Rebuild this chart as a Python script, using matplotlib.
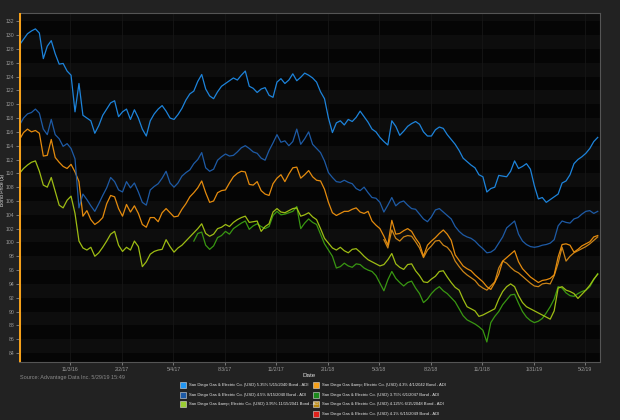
import numpy as np
import pandas as pd
import matplotlib
matplotlib.use("Agg")
import matplotlib.pyplot as plt
import matplotlib.dates as mdates
from matplotlib.patches import Rectangle

plt.rcParams['font.family'] = ['Liberation Sans', 'DejaVu Sans']

# -------------------------------
# Data (weekly closes)
# -------------------------------
dates = pd.date_range('2016-08-05', periods=147, freq='7D')

bond_535_2040 = [
    128.6, 129.4, 130.2, 130.6, 130.9, 130.3, 126.6, 128.4, 129.2, 127.3, 125.8, 125.9, 124.8,
    124.2, 118.9, 123.0, 118.4, 118.0, 117.6, 115.8, 116.9, 118.4, 119.3, 120.2, 120.5, 118.2,
    118.9, 119.3, 117.8, 119.2, 118.0, 116.4, 115.4, 117.6, 118.6, 119.3, 119.8, 119.0, 118.0,
    117.8, 118.5, 119.4, 120.6, 121.5, 121.9, 123.3, 124.3, 122.2, 121.2, 120.8, 121.8, 122.6,
    123.0, 123.4, 123.8, 123.5, 124.2, 124.8, 122.6, 122.3, 121.7, 122.2, 122.4, 121.3, 121.0,
    123.2, 123.7, 123.0, 123.5, 124.4, 123.4, 123.9, 124.5, 124.2, 123.8, 123.2, 121.8, 120.8,
    118.0, 115.9, 117.3, 117.6, 117.0, 117.8, 117.5, 118.1, 119.0, 118.2, 117.4, 116.4, 116.0,
    115.2, 114.6, 114.1, 117.6, 116.8, 115.5, 116.1, 116.8, 117.2, 117.5, 117.1, 116.0, 115.4,
    115.4, 116.3, 116.7, 116.5, 115.6, 114.9, 114.2, 113.3, 112.2, 111.7, 111.2, 110.8, 109.8,
    109.5, 107.3, 107.8, 108.0, 109.7, 109.6, 109.5, 110.3, 111.8, 110.7, 111.0, 111.4, 110.6,
    108.2, 106.3, 106.5, 105.8, 106.2, 106.6, 107.0, 108.6, 108.9, 109.8, 111.4, 112.0, 112.4,
    112.9, 113.6, 114.6, 115.2,
]

bond_45_2040 = [
    117.0, 118.0, 118.6, 118.8, 119.3, 118.7, 116.4, 115.6, 117.8, 115.6, 115.0, 113.9, 114.3,
    113.6, 112.1, 105.0, 107.0, 106.2, 105.3, 104.5, 105.6, 106.8, 107.9, 109.4, 108.8, 107.6,
    107.3, 108.8, 107.9, 108.6, 107.3, 105.8, 105.4, 107.6, 108.1, 108.5, 109.3, 110.3, 108.6,
    108.0, 108.6, 109.6, 110.1, 110.5, 111.4, 112.0, 113.0, 110.8, 110.3, 110.6, 111.9, 112.4,
    112.8, 112.5, 112.6, 113.1, 113.7, 114.0, 113.6, 113.1, 112.9, 112.2, 111.9, 113.3, 114.4,
    115.6, 114.5, 114.7, 114.0, 114.6, 116.4, 114.2, 115.0, 116.0, 114.2, 113.6, 113.0, 111.8,
    110.1, 109.4, 108.8, 108.7, 109.0, 108.7, 108.5, 107.8, 107.5, 108.0, 107.2, 106.5, 106.4,
    105.8, 104.4, 105.4, 106.5, 105.3, 105.8, 106.0, 105.4, 104.9, 104.8, 104.1, 103.4, 103.0,
    103.7, 104.7, 104.9, 104.4, 103.9, 103.4, 102.3, 101.6, 101.1, 100.8, 100.6, 100.2, 99.6,
    99.1, 98.5, 98.6, 99.0, 99.9, 100.8, 102.1, 102.6, 103.1, 101.2, 100.2, 99.7, 99.4,
    99.3, 99.4, 99.6, 99.7, 99.9, 100.4, 102.4, 103.1, 102.9, 102.8, 103.4, 103.6, 104.1,
    104.5, 104.6, 104.2, 104.5,
]

bond_43_2042 = [
    114.9, 115.9, 116.4, 116.0, 116.2, 115.8, 112.5, 112.6, 114.9, 112.3, 111.6, 111.0, 110.7,
    111.3, 110.2, 108.8, 103.8, 104.6, 103.3, 102.6, 103.0, 103.6, 105.6, 106.8, 106.6, 104.9,
    103.8, 105.5, 104.4, 105.3, 104.2, 102.6, 102.2, 103.6, 103.6, 103.0, 104.3, 104.9, 104.3,
    103.7, 103.8, 104.8, 105.6, 106.6, 107.2, 107.9, 108.9, 107.2, 105.8, 106.0, 107.2, 107.5,
    107.6, 108.6, 109.5, 110.0, 110.3, 110.2, 108.4, 108.3, 108.8, 107.5, 107.0, 106.8, 108.5,
    109.3, 109.8, 108.8, 109.9, 110.8, 110.9, 109.3, 109.8, 110.4, 109.5, 109.0, 108.9, 107.7,
    105.8, 104.3, 103.9, 104.2, 104.5, 104.5, 104.8, 105.0, 104.4, 104.2, 104.5, 103.1, 102.5,
    102.0, 100.9, 99.6, 103.2, 101.2, 101.3, 101.7, 102.0, 101.6, 100.6, 99.8, 98.0, 99.6,
    100.2, 100.7, 101.3, 101.8, 101.2, 100.3, 98.2, 97.4, 96.6, 96.2, 95.9, 95.3, 94.8,
    94.3, 93.6, 93.2, 94.2, 95.4, 97.3, 97.8, 98.3, 98.8, 97.2, 96.2, 95.6, 95.0,
    94.6, 94.2, 94.5, 94.6, 94.8, 95.3, 97.9, 99.7, 99.8, 99.6, 98.6, 99.0, 99.5,
    99.8, 100.1, 100.8, 101.0,
]

bond_4125_2048 = [np.nan] * 92 + [
    100.4, 99.2, 101.8, 100.6, 100.2, 100.8, 101.0, 100.9, 100.1, 99.2, 97.8, 98.9,
    99.5, 100.2, 100.3, 99.6, 99.3, 98.6, 97.3, 96.5, 95.8, 95.3, 94.9, 94.5, 93.8,
    93.4, 93.1, 93.7, 94.3, 96.3, 97.3, 97.0, 96.4, 95.9, 95.6, 95.1, 94.6, 94.1,
    93.7, 93.6, 94.0, 94.1, 94.0, 95.2, 97.0, 99.3, 97.3, 98.0, 98.5, 98.8, 99.1,
    99.4, 99.8, 100.3, 100.8,
]

bond_395_2041 = [
    110.0, 110.7, 111.2, 111.6, 111.8, 110.3, 108.3, 108.0, 109.4, 107.4, 105.4, 105.0, 106.1,
    106.7, 104.2, 100.2, 99.2, 98.9, 99.3, 98.0, 98.5, 99.3, 100.2, 101.2, 101.6, 99.6,
    98.7, 99.3, 98.9, 100.2, 99.4, 96.5, 97.2, 98.3, 98.7, 98.9, 99.0, 100.4, 99.4,
    98.6, 99.2, 99.6, 100.2, 100.8, 101.4, 102.0, 102.7, 101.3, 100.9, 101.2, 102.0, 102.2,
    102.6, 102.3, 102.9, 103.3, 103.6, 103.8, 102.9, 103.0, 103.1, 101.6, 102.3, 102.7, 104.4,
    104.9, 104.4, 104.3, 104.6, 104.9, 105.0, 103.8, 104.0, 104.3, 103.7, 103.3, 102.0, 100.6,
    99.9, 99.2, 98.9, 99.3, 98.8, 98.5, 99.0, 99.1, 98.6, 98.0, 97.5, 97.2, 96.9,
    96.6, 96.8, 97.5, 98.4, 96.9, 96.4, 96.1, 96.8, 96.9, 95.9, 95.2, 94.3, 94.2,
    94.7, 95.1, 95.8, 95.9, 95.0, 94.2, 93.5, 93.1, 91.8, 90.7, 90.4, 90.1, 89.3,
    89.5, 89.8, 90.1, 90.4, 91.8, 92.9, 93.6, 94.0, 93.6, 92.3, 91.3, 90.7, 90.4,
    90.1, 89.8, 89.5, 89.2, 88.9, 90.1, 93.4, 93.6, 93.1, 92.9, 92.6, 91.9, 92.5,
    93.1, 93.8, 94.7, 95.4,
]

bond_375_2047 = [np.nan] * 44 + [
    100.2, 101.3, 101.5, 99.6, 99.0, 99.5, 100.7, 101.0,
    101.6, 101.2, 102.0, 102.4, 102.8, 103.1, 101.9, 102.4, 102.7, 102.3, 102.0, 102.3, 103.9,
    104.5, 104.0, 104.1, 104.3, 104.5, 105.2, 102.0, 102.8, 103.4, 102.9, 102.6, 101.2, 99.8,
    98.9, 98.0, 96.3, 96.5, 97.0, 96.6, 96.4, 96.9, 96.8, 96.3, 96.0, 95.8, 95.2,
    94.1, 93.0, 94.6, 95.8, 94.8, 94.2, 93.7, 94.2, 94.4, 93.4, 92.6, 91.3, 91.8,
    92.6, 93.2, 93.6, 93.0, 92.6, 92.0, 91.4, 90.4, 89.4, 88.8, 88.5, 88.2, 87.8,
    87.3, 85.6, 88.4, 89.3, 90.0, 91.0, 91.7, 92.4, 92.5, 91.2, 90.0, 89.2, 88.7,
    88.4, 88.6, 89.0, 89.8, 90.7, 91.8, 93.6, 93.4, 92.7, 92.3, 92.2, 92.6, 92.9,
    93.1, 93.6, 94.6, 95.5,
]

bond_41_2049 = []  # no prices in this window

labels = [
    "San Diego Gas & Electric Co. (USD) 5.35% 5/15/2040 Bond - ADI",
    "San Diego Gas & Electric Co. (USD) 4.5% 8/15/2040 Bond - ADI",
    "San Diego Gas &amp; Electric Co. (USD) 3.95% 11/15/2041 Bond - ADI",
    "San Diego Gas &amp; Electric Co. (USD) 4.3% 4/1/2042 Bond - ADI",
    "San Diego Gas & Electric Co. (USD) 3.75% 6/1/2047 Bond - ADI",
    "San Diego Gas & Electric Co. (USD) 4.125% 6/15/2048 Bond - ADI",
    "San Diego Gas & Electric Co. (USD) 4.1% 6/15/2049 Bond - ADI",
]
series = [bond_535_2040, bond_45_2040, bond_395_2041, bond_43_2042,
          bond_375_2047, bond_4125_2048, bond_41_2049]
line_colors = ['#1e8ae6', '#1f5fae', '#a6c614', '#f0920e', '#3b9e12', '#d58a18', '#e0231c']
legend_colors = ['#2196f3', '#1d5aa6', '#9acd32', '#f5a01a', '#1c8a1c', '#b8860b', '#e0201b']
draw_order = [4, 2, 5, 3, 1, 0]

tick_dates = ['2016-11-03', '2017-02-02', '2017-05-04', '2017-08-03', '2017-11-02',
              '2018-02-01', '2018-05-03', '2018-08-02', '2018-11-01', '2019-01-31', '2019-05-02']

# -------------------------------
# Figure
# -------------------------------
bg = '#222222'
fig = plt.figure(figsize=(6.2, 4.2), dpi=100, facecolor=bg)
ax = fig.add_axes([19 / 620, 1 - 362 / 420, 581 / 620, 349 / 420])
ax.set_facecolor('#050505')

ax.set_ylim(82.7, 133.2)
ax.set_xlim(pd.Timestamp('2016-08-04'), pd.Timestamp('2019-05-28'))

# alternating horizontal bands
for lo in np.arange(82, 134, 4):
    ax.axhspan(lo + 2, lo + 4, color='#0d0d0d', lw=0, zorder=0)

for d in tick_dates:
    ax.axvline(pd.Timestamp(d), color='#161616', lw=0.6, zorder=0.5)

for k in draw_order:
    vals = series[k]
    if len(vals) == 0:
        continue
    ax.plot(dates, vals, color=line_colors[k], lw=0.9, alpha=0.95, zorder=2)

# orange marker at the left edge
ax.axvline(ax.get_xlim()[0], color='#f5a01a', lw=2.2, zorder=3)

ax.set_yticks(np.arange(84, 133, 2))
ax.set_yticklabels([str(v) for v in range(84, 133, 2)])
ax.set_xticks([pd.Timestamp(d) for d in tick_dates])
ax.xaxis.set_major_formatter(mdates.DateFormatter('%-m/%-d/%y'))
ax.tick_params(axis='both', colors='#9a9a9a', labelsize=3.7, length=2, width=0.5, pad=1.5)

for side in ['top', 'right', 'bottom']:
    ax.spines[side].set_color('#555555')
    ax.spines[side].set_linewidth(0.8)
ax.spines['left'].set_visible(False)

ax.set_xlabel('Date', color='#dddddd', fontsize=4.5, labelpad=1)
fig.text(2.5 / 620, 1 - 190 / 420, 'Bond Price ($)', color='#dddddd', fontsize=3.6,
         rotation=90, ha='center', va='center')

fig.text(20 / 620, 1 - 377 / 420, 'Source: Advantage Data Inc. 5/29/19 15:49',
         color='#8a8a8a', fontsize=4, va='center')

# legend in two columns
pos = [(183, 385), (183, 395), (183, 404), (316, 385), (316, 395), (316, 404), (316, 414)]
for (px, py), lab, c in zip(pos, labels, legend_colors):
    fig.patches.append(Rectangle(((px - 3) / 620, 1 - (py + 3) / 420), 6 / 620, 6 / 420,
                                 transform=fig.transFigure, facecolor=c,
                                 edgecolor='#dddddd', lw=0.4))
    fig.text((px + 6) / 620, 1 - py / 420, lab, color='#e8e8e8', fontsize=3.0, va='center')

fig.savefig('out.png', dpi=100, facecolor=bg)
